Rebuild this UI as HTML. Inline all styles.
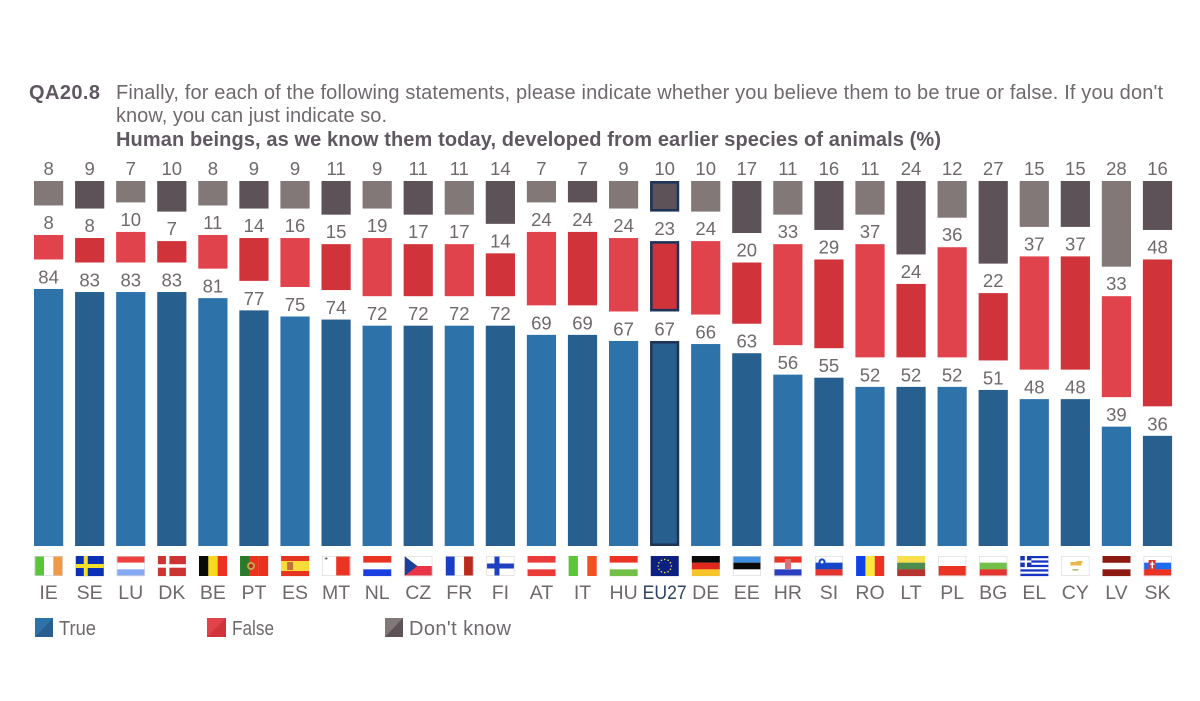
<!DOCTYPE html>
<html lang="en">
<head>
<meta charset="utf-8">
<title>QA20.8 Human beings developed from earlier species</title>
<style>
html,body{margin:0;padding:0;background:#fff;width:1200px;height:701px;overflow:hidden}
svg{display:block;filter:blur(.35px)}
text{font-family:"Liberation Sans",sans-serif;fill:#6f696e}
</style>
</head>
<body>
<svg id="chart" xmlns="http://www.w3.org/2000/svg" width="1200" height="701" viewBox="0 0 1200 701">
  <rect width="1200" height="701" fill="#fff"/>
  <text x="29" y="99" font-size="20" font-weight="bold" textLength="71" lengthAdjust="spacing" style="fill:#5f5860">QA20.8</text>
  <text x="116" y="99" font-size="20" textLength="1047" lengthAdjust="spacing">Finally, for each of the following statements, please indicate whether you believe them to be true or false. If you don't</text>
  <text x="116" y="122" font-size="20" textLength="271" lengthAdjust="spacing">know, you can just indicate so.</text>
  <text x="116" y="146" font-size="20" font-weight="bold" textLength="825" lengthAdjust="spacing" style="fill:#5f5860">Human beings, as we know them today, developed from earlier species of animals (%)</text>
  <g id="bars"></g>
  <g id="flags"></g>
  <g id="legend">
    <g>
      <rect x="35" y="618" width="18" height="19" fill="#275f8e"/>
      <polygon points="35,618 53,618 35,637" fill="#2e72aa"/>
      <text x="59" y="635" font-size="20" textLength="37" lengthAdjust="spacingAndGlyphs">True</text>
    </g>
    <g>
      <rect x="207" y="618" width="19" height="19" fill="#d03339"/>
      <polygon points="207,618 226,618 207,637" fill="#e0434b"/>
      <text x="232" y="635" font-size="20" textLength="42" lengthAdjust="spacingAndGlyphs">False</text>
    </g>
    <g>
      <rect x="385" y="618" width="18" height="19" fill="#5c5257"/>
      <polygon points="385,618 403,618 385,637" fill="#837878"/>
      <text x="409" y="635" font-size="20" textLength="102" lengthAdjust="spacing">Don't know</text>
    </g>
  </g>
</svg>
<script>
const countries = ["IE","SE","LU","DK","BE","PT","ES","MT","NL","CZ","FR","FI","AT","IT","HU","EU27","DE","EE","HR","SI","RO","LT","PL","BG","EL","CY","LV","SK"];
const trueValues = [84,83,83,83,81,77,75,74,72,72,72,72,69,69,67,67,66,63,56,55,52,52,52,51,48,48,39,36];
const falseValues = [8,8,10,7,11,14,16,15,19,17,17,14,24,24,24,23,24,20,33,29,37,24,36,22,37,37,33,48];
const dontKnowValues = [8,9,7,10,8,9,9,11,9,11,11,14,7,7,9,10,10,17,11,16,11,24,12,27,15,15,28,16];
const flagDirection = ["v","h","h","h","v","v","h","v","h","h","v","h","h","v","h","h","h","h","h","h","v","h","h","h","h","h","h","h"];
const flagColors = [
  ["#5bc53a","#ffffff","#f09a46"],["#0b2fb5"],["#ef4040","#ffffff","#86a9f5"],["#cc3333"],
  ["#0a0a0a","#f7d91e","#ea3323"],["#2b7a2b","#e9331f","#e9331f"],["#e5341f","#f8dc3a","#f8dc3a","#e5341f"],["#ffffff","#ea3323"],
  ["#ea3323","#ffffff","#1a3ee0"],["#ffffff","#ea3344"],["#1a3fc4","#ffffff","#b92b1e"],["#ffffff"],
  ["#ea3a3a","#ffffff","#ea3a3a"],["#5ec43c","#ffffff","#ef5222"],["#ea3323","#ffffff","#72c04a"],["#0b2080"],
  ["#0a0a0a","#e0281f","#f7c52a"],["#3f8fe0","#0a0a0a","#ffffff"],["#ea3323","#ffffff","#2b3fc0"],["#ffffff","#1547c8","#e5342f"],
  ["#1341e8","#fde73a","#ea3323"],["#f9e04b","#4f8a4f","#b5342f"],["#ffffff","#ea3323"],["#ffffff","#72c04a","#e5342f"],
  ["#1433c0"],["#ffffff"],["#8b1a12","#ffffff","#8b1a12"],["#ffffff","#1f6af0","#ea3323"]
];

const SVGNS = "http://www.w3.org/2000/svg";
const barsLayer = document.getElementById("bars");
const flagsLayer = document.getElementById("flags");
const xStart = 34, xStep = 41.07, barW = 29.2, unit = 3.06, baseY = 546, topY = 181, gap = 29.5;
const xOf = i => xStart + i * xStep;
const hOf = v => v * unit;

function mk(parent, tag, attrs, txt) {
  const el = document.createElementNS(SVGNS, tag);
  for (const k in attrs) el.setAttribute(k, attrs[k]);
  if (txt !== undefined) el.textContent = txt;
  parent.appendChild(el);
  return el;
}

const navy = "#1f3557";
countries.forEach((code, i) => {
  const odd = i % 2 === 1;
  const x = xOf(i);
  const isEU = code === "EU27";
  const key = code.toLowerCase();
  const cx = x + barW / 2;

  const trueTop = baseY - hOf(trueValues[i]);
  const falseBottom = trueTop - gap;
  const falseTop = falseBottom - hOf(falseValues[i]);
  const dkHeight = hOf(dontKnowValues[i]);

  const group = mk(barsLayer, "g", {});
  
  

  const stroke = isEU ? {stroke: navy, "stroke-width": 2.6} : {};
  const inset = isEU ? 1.3 : 0;

  const tb = mk(group, "rect", Object.assign({x: x + inset, y: trueTop + inset, width: barW - 2 * inset, height: hOf(trueValues[i]) - 2 * inset, fill: odd ? "#275f8e" : "#2e72aa"}, stroke));
  
  

  const fb = mk(group, "rect", Object.assign({x: x + inset, y: falseTop + inset, width: barW - 2 * inset, height: hOf(falseValues[i]) - 2 * inset, fill: odd ? "#d03339" : "#e0434b"}, stroke));
  
  

  const db = mk(group, "rect", Object.assign({x: x + inset, y: topY + inset, width: barW - 2 * inset, height: dkHeight - 2 * inset, fill: odd ? "#5c5257" : "#837878"}, stroke));
  
  

  const tl = mk(group, "text", {x: cx, y: trueTop - 5.5, "font-size": 18.5, "text-anchor": "middle"}, trueValues[i]);
  
  

  const fl = mk(group, "text", {x: cx, y: falseTop - 6, "font-size": 18.5, "text-anchor": "middle"}, falseValues[i]);
  
  

  const dl = mk(group, "text", {x: cx, y: topY - 6, "font-size": 18.5, "text-anchor": "middle"}, dontKnowValues[i]);
  
  

  const labelAttrs = {x: cx, y: 599, "font-size": 19.5, "text-anchor": "middle"};
  if (isEU) labelAttrs.textLength = 44;
  if (isEU) labelAttrs.lengthAdjust = "spacingAndGlyphs";
  const cl = mk(group, "text", labelAttrs, code);
  
  
  if (isEU) cl.style.fill = "#2f4261";

  drawFlag(i, code, x + 0.7);
});

function drawFlag(i, code, fx) {
  const fy = 556, fw = 28, fh = 20;
  const g = mk(flagsLayer, "g", {});
  
  
  const cols = flagColors[i];
  const n = cols.length;
  cols.forEach((c, k) => {
    if (flagDirection[i] === "v") mk(g, "rect", {x: fx + k * fw / n, y: fy, width: fw / n + .1, height: fh, fill: c});
    else mk(g, "rect", {x: fx, y: fy + k * fh / n, width: fw, height: fh / n + .1, fill: c});
  });
  const r = (x, y, w, h, f) => mk(g, "rect", {x: fx + x, y: fy + y, width: w, height: h, fill: f});
  if (code === "SE") { r(8, 0, 4, 20, "#f4e02a"); r(0, 8, 28, 4, "#f4e02a"); }
  if (code === "DK") { r(8, 0, 3.5, 20, "#fff"); r(0, 8.2, 28, 3.5, "#fff"); }
  if (code === "FI") { r(8, 0, 5, 20, "#1e3fc0"); r(0, 7.5, 28, 5, "#1e3fc0"); }
  if (code === "PT") { mk(g, "circle", {cx: fx + 11, cy: fy + 10, r: 4, fill: "#c9a24a"}); mk(g, "circle", {cx: fx + 11, cy: fy + 10, r: 2, fill: "#b03020"}); }
  if (code === "ES") { r(6, 6, 6, 8, "#c0713a"); }
  if (code === "MT") { r(2.5, 2, 3, 1, "#777"); r(3.5, 1, 1, 3, "#777"); }
  if (code === "CZ") { mk(g, "polygon", {points: `${fx},${fy} ${fx + 13},${fy + 10} ${fx},${fy + 20}`, fill: "#1a3f9c"}); }
  if (code === "HR") { r(11, 3, 6, 10, "#d9707a"); }
  if (code === "SI") { mk(g, "circle", {cx: fx + 7, cy: fy + 6, r: 3.6, fill: "#1547c8"}); mk(g, "circle", {cx: fx + 7, cy: fy + 6, r: 1.5, fill: "#fff"}); }
  if (code === "SK") { r(5, 4, 7, 10, "#e5342f"); r(8, 5.5, 1.4, 7, "#fff"); r(6.5, 7.5, 4.4, 1.2, "#fff"); }
  if (code === "EU27") {
    for (let s = 0; s < 12; s++) {
      const a = s * Math.PI / 6;
      mk(g, "circle", {cx: fx + 14 + 6.6 * Math.cos(a), cy: fy + 10 + 6.6 * Math.sin(a), r: .8, fill: "#f0d83a"});
    }
  }
  if (code === "EL") {
    for (let s = 0; s < 4; s++) r(0, 2.2 + s * 4.45, 28, 2.2, "#fff");
    r(0, 0, 11, 11, "#1433c0");
    r(4.4, 0, 2.2, 11, "#fff");
    r(0, 4.4, 11, 2.2, "#fff");
  }
  if (code === "CY") {
    r(9, 6, 11, 3.5, "#e8b64a");
    r(15, 5, 6, 2, "#e8b64a");
    r(11, 13, 6, 1.6, "#a8c070");
  }
  if (code === "LV") { g.lastChild.previousSibling.setAttribute("height", 4); g.lastChild.previousSibling.setAttribute("y", fy + 8); }
  const light = ["IE","LU","MT","FR","FI","CZ","CY","PL","EE","SI","SK","BG","HR"];
  if (light.includes(code)) mk(g, "rect", {x: fx + .3, y: fy + .3, width: fw - .6, height: fh - .6, fill: "none", stroke: "#d5d5d5", "stroke-width": .6});
}
</script>
</body>
</html>
